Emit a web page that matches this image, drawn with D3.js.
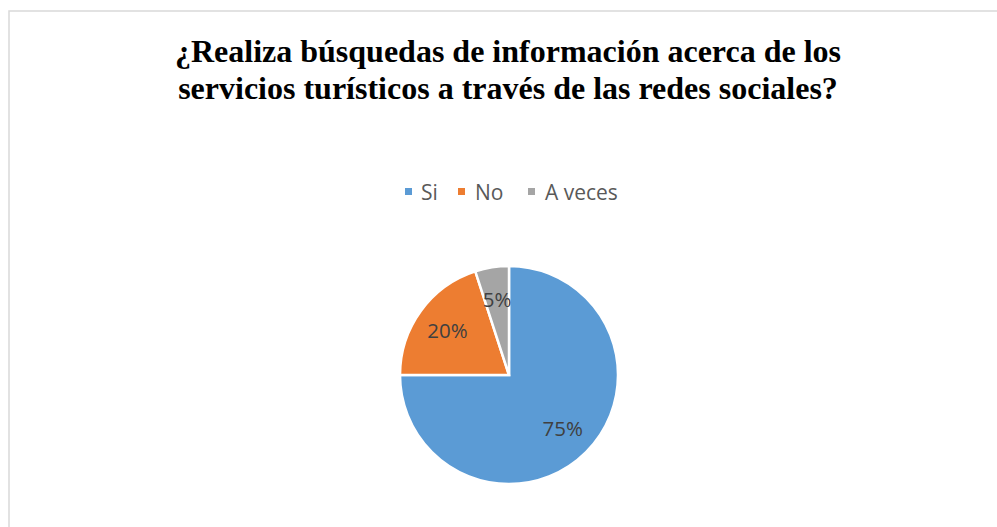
<!DOCTYPE html>
<html>
<head>
<meta charset="utf-8">
<script src="https://cdn.jsdelivr.net/npm/d3@7"></script>
<style>
  html, body { margin: 0; padding: 0; background: #fff; }
  svg { display: block; }
</style>
</head>
<body>
<svg id="chart" width="997" height="527"></svg>
<script>
// Survey answers and their shares (percent)
const categories = ["Si", "No", "A veces"];
const values = [75, 20, 5];
const colors = ["#5B9BD5", "#ED7D31", "#A5A5A5"];
const titleLines = [
  "¿Realiza búsquedas de información acerca de los",
  "servicios turísticos a través de las redes sociales?"
];

const svg = d3.select("#chart");

// chart frame
svg.append("rect")
  .attr("x", 9).attr("y", 11)
  .attr("width", 995).attr("height", 530)
  .attr("fill", "#fff")
  .attr("stroke", "#D9D9D9")
  .attr("stroke-width", 1.5);

// title
svg.append("g").selectAll("text")
  .data(titleLines)
  .join("text")
  .attr("x", 508)
  .attr("y", (d, i) => 62 + i * 37)
  .attr("text-anchor", "middle")
  .attr("font-family", "'Liberation Serif', 'Times New Roman', serif")
  .attr("font-weight", "bold")
  .attr("font-size", 32)
  .attr("fill", "#000")
  .text(d => d);

// legend
const legendItems = [
  { x: 405, tx: 421 },
  { x: 458, tx: 475 },
  { x: 528, tx: 545 }
];
const legend = svg.append("g");
categories.forEach((c, i) => {
  legend.append("rect")
    .attr("x", legendItems[i].x).attr("y", 188)
    .attr("width", 7).attr("height", 7)
    .attr("fill", colors[i]);
  legend.append("text")
    .attr("x", legendItems[i].tx).attr("y", 200)
    .attr("font-family", "'Open Sans', sans-serif")
    .attr("font-size", 21)
    .attr("fill", "#595959")
    .text(c);
});

// pie
const cx = 509, cy = 375, r = 109;
const pie = d3.pie().sort(null).value(d => d.v);
const data = pie(categories.map((c, i) => ({ c, v: values[i], col: colors[i] })));
const arc = d3.arc().innerRadius(0).outerRadius(r);
const labelArc = d3.arc().innerRadius(76).outerRadius(76);

const g = svg.append("g").attr("transform", `translate(${cx},${cy})`);
g.selectAll("path")
  .data(data)
  .join("path")
  .attr("d", arc)
  .attr("fill", d => d.data.col)
  .attr("stroke", "#fff")
  .attr("stroke-width", 2.5)
  .attr("stroke-linejoin", "miter");

g.selectAll("text")
  .data(data)
  .join("text")
  .attr("transform", d => `translate(${labelArc.centroid(d)})`)
  .attr("text-anchor", "middle")
  .attr("dy", "0.36em")
  .attr("font-family", "'Open Sans', sans-serif")
  .attr("font-size", 20.5)
  .attr("fill", "#404040")
  .text(d => d.data.v + "%");
</script>
</body>
</html>
